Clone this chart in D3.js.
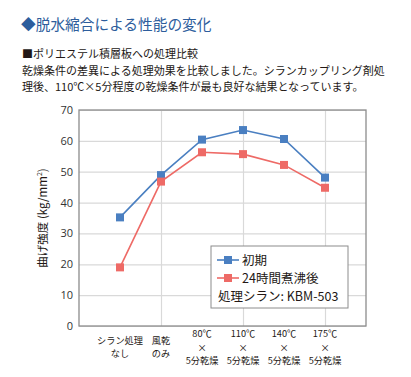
<!DOCTYPE html>
<html>
<head>
<meta charset="utf-8">
<script src="https://cdn.jsdelivr.net/npm/d3@7"></script>
<style>
  html, body { margin: 0; padding: 0; background: #fff; }
  svg text { font-family: "Noto Sans CJK JP", "Noto Sans", sans-serif; }
</style>
</head>
<body>
<div id="chart"></div>
<script>
// データ
const categories = [
  ["シラン処理", "なし"],
  ["風乾", "のみ"],
  ["80℃", "×", "5分乾燥"],
  ["110℃", "×", "5分乾燥"],
  ["140℃", "×", "5分乾燥"],
  ["175℃", "×", "5分乾燥"]
];
const initialVals = [35.2, 48.9, 60.4, 63.5, 60.6, 48.1];
const boiledVals  = [19.0, 46.8, 56.3, 55.7, 52.2, 44.8];
const seriesNames = ["初期", "24時間煮沸後"];
const yTicks = [0, 10, 20, 30, 40, 50, 60, 70];
const xGrid  = [2, 4, 6];

const W = 411, H = 377;
const margin = { top: 110, right: 45, bottom: 51, left: 79 };
const innerW = W - margin.left - margin.right;
const innerH = H - margin.top - margin.bottom;

const blue = "#4a7fc1", red = "#ee6a66";

const svg = d3.select("#chart").append("svg")
  .attr("width", W).attr("height", H);

// 見出し
svg.append("text")
  .attr("x", 21).attr("y", 30)
  .attr("font-size", 14.7)
  .attr("fill", "#2d5d9c")
  .text("◆脱水縮合による性能の変化");

const body = [
  "■ポリエステル積層板への処理比較",
  "乾燥条件の差異による処理効果を比較しました。シランカップリング剤処",
  "理後、110℃×5分程度の乾燥条件が最も良好な結果となっています。"
];
svg.selectAll("text.body")
  .data(body)
  .join("text")
  .attr("class", "body")
  .attr("x", 22)
  .attr("y", (d, i) => 58 + i * 16.5)
  .attr("font-size", 11)
  .attr("fill", "#231815")
  .text(d => d);

const g = svg.append("g")
  .attr("transform", `translate(${margin.left},${margin.top})`);

const x = d3.scaleLinear().domain([0, 7]).range([0, innerW]);
const y = d3.scaleLinear().domain([0, 70]).range([innerH, 0]);

// グリッド
g.append("g")
  .call(d3.axisLeft(y).tickValues(yTicks).tickSize(-innerW).tickFormat(""))
  .call(a => a.select(".domain").remove())
  .selectAll("line").attr("stroke", "#d9d9d9").attr("stroke-width", 1.2);

g.append("g")
  .attr("transform", `translate(0,${innerH})`)
  .call(d3.axisBottom(x).tickValues(xGrid).tickSize(-innerH).tickFormat(""))
  .call(a => a.select(".domain").remove())
  .selectAll("line").attr("stroke", "#d9d9d9").attr("stroke-width", 1.2);

// 枠
g.append("rect")
  .attr("width", innerW).attr("height", innerH)
  .attr("fill", "none").attr("stroke", "#8c8c8c").attr("stroke-width", 1.3);

// Y軸ラベル
const axY = g.append("g")
  .call(d3.axisLeft(y).tickValues(yTicks).tickSize(0).tickPadding(6));
axY.select(".domain").remove();
axY.selectAll("text")
  .attr("font-size", 11)
  .attr("fill", "#333")
  .style("font-family", "'Open Sans', 'Noto Sans', sans-serif");

// Y軸タイトル
const yt = svg.append("text")
  .attr("transform", `translate(47,${margin.top + innerH / 2}) rotate(-90)`)
  .attr("text-anchor", "middle")
  .attr("font-size", 11.5)
  .attr("fill", "#231815");
yt.append("tspan").text("曲げ強度 (kg/mm");
yt.append("tspan").attr("font-size", 7).attr("dy", -5).text("2");
yt.append("tspan").attr("dy", 5).text(")");

// X軸カテゴリラベル（1行ずつ別のtext）
const lh = 13.3;
categories.forEach((lines, i) => {
  const cx = x(i + 1);
  const y0 = innerH + 24.5 - (lines.length - 1) * lh / 2;
  g.selectAll(null)
    .data(lines)
    .join("text")
    .attr("class", "cat")
    .attr("text-anchor", "middle")
    .attr("font-size", 9.2)
    .attr("fill", "#231815")
    .attr("x", cx)
    .attr("y", (s, k) => y0 + k * lh)
    .text(s => s);
});

// 系列
const series = [
  { name: seriesNames[0], values: initialVals, color: blue },
  { name: seriesNames[1], values: boiledVals,  color: red }
];
const line = d3.line().x((d, i) => x(i + 1)).y(d => y(d));
const ms = 8;

series.forEach(s => {
  g.append("path")
    .datum(s.values)
    .attr("fill", "none")
    .attr("stroke", s.color)
    .attr("stroke-width", 1.6)
    .attr("d", line);
  g.selectAll(null)
    .data(s.values)
    .join("rect")
    .attr("x", (d, i) => x(i + 1) - ms / 2)
    .attr("y", d => y(d) - ms / 2)
    .attr("width", ms).attr("height", ms)
    .attr("fill", s.color);
});

// 凡例
const lg = svg.append("g").attr("transform", "translate(211,246)");
lg.append("rect")
  .attr("width", 137).attr("height", 62)
  .attr("fill", "#fff").attr("stroke", "#8c8c8c").attr("stroke-width", 1);
series.forEach((s, i) => {
  const yy = 14 + i * 18;
  lg.append("line")
    .attr("x1", 6).attr("x2", 28).attr("y1", yy).attr("y2", yy)
    .attr("stroke", s.color).attr("stroke-width", 1.6);
  lg.append("rect")
    .attr("x", 17 - 4).attr("y", yy - 4).attr("width", 8).attr("height", 8)
    .attr("fill", s.color);
  lg.append("text")
    .attr("x", 31).attr("y", yy + 5)
    .attr("font-size", 12.5).attr("fill", "#231815")
    .text(s.name);
});
lg.append("text")
  .attr("x", 7).attr("y", 55)
  .attr("font-size", 12.5).attr("fill", "#231815")
  .text("処理シラン: KBM-503");
</script>
</body>
</html>
